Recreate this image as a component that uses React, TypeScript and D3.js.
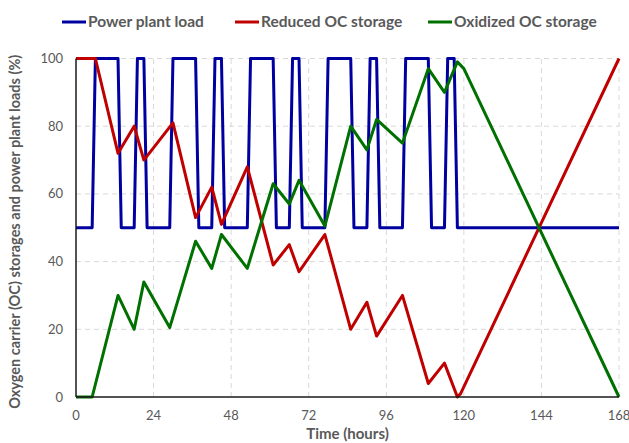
import React, { useRef, useEffect } from 'react'
import * as d3 from 'd3'

// power plant load (%), vertices in hours
const loadHours = [0, 5, 6, 13, 14, 18, 19, 21, 22, 29, 30, 37, 38, 42, 43, 45, 46, 53, 54, 61, 62, 66, 67, 69, 70, 77, 78, 85, 86, 90, 91, 93, 94, 101, 102, 109, 110, 114, 115, 117, 118, 168]
const loadValues = [50, 50, 100, 100, 50, 50, 100, 100, 50, 50, 100, 100, 50, 50, 100, 100, 50, 50, 100, 100, 50, 50, 100, 100, 50, 50, 100, 100, 50, 50, 100, 100, 50, 50, 100, 100, 50, 50, 100, 100, 50, 50]

// reduced OC storage (%)
const reducedHours = [0, 6, 13, 18, 21, 30, 37, 42, 45, 53, 61, 66, 69, 77, 85, 90, 93, 101, 109, 114, 118, 119, 168]
const reducedValues = [100, 100, 72, 80, 70, 81, 53, 62, 51, 68, 39, 45, 37, 48, 20, 28, 18, 30, 4, 10, 0, 1, 100]

// oxidized OC storage (%)
const oxidizedHours = [0, 5, 13, 18, 21, 29, 37, 42, 45, 53, 61, 66, 69, 77, 85, 90, 93, 101, 109, 114, 118, 120, 168]
const oxidizedValues = [0, 0, 30, 20, 34, 20.5, 46, 38, 48, 38, 63, 57, 64, 50.5, 80, 73, 82, 75, 97, 90, 99, 97, 0]

const xTicks = [0, 24, 48, 72, 96, 120, 144, 168]
const yTicks = [0, 20, 40, 60, 80, 100]

const seriesNames = ['Power plant load', 'Reduced OC storage', 'Oxidized OC storage']
const seriesColors = ['#0000a0', '#c00000', '#007000']

const W = 629, H = 443
const margin = { top: 58.5, right: 10, bottom: 46, left: 76 }
const FONT = 'Lato, "Open Sans", sans-serif'

const App = () => {
    const svgRef = useRef<SVGSVGElement>(null)

    useEffect(() => {
        const svg = d3.select(svgRef.current)
        svg.selectAll('*').remove()

        const x = d3.scaleLinear().domain([0, 168]).range([margin.left, W - margin.right])
        const y = d3.scaleLinear().domain([0, 100]).range([H - margin.bottom, margin.top])

        // grid
        svg.append('g')
            .selectAll('line')
            .data(yTicks.filter(d => d > 0))
            .join('line')
            .attr('x1', x(0)).attr('x2', x(168))
            .attr('y1', d => y(d)).attr('y2', d => y(d))
            .attr('stroke', '#d9d9d9').attr('stroke-dasharray', '5,4')
        svg.append('g')
            .selectAll('line')
            .data(xTicks.filter(d => d > 0))
            .join('line')
            .attr('x1', d => x(d)).attr('x2', d => x(d))
            .attr('y1', y(0)).attr('y2', y(100))
            .attr('stroke', '#d9d9d9').attr('stroke-dasharray', '5,4')

        // tick labels
        svg.append('g')
            .selectAll('text')
            .data(yTicks)
            .join('text')
            .attr('x', x(0) - 13)
            .attr('y', d => y(d))
            .attr('dy', '0.35em')
            .attr('text-anchor', 'end')
            .attr('font-family', FONT).attr('font-size', 13).attr('fill', '#595959')
            .text(d => d)
        svg.append('g')
            .selectAll('text')
            .data(xTicks)
            .join('text')
            .attr('x', d => x(d))
            .attr('y', y(0) + 18)
            .attr('dy', '0.35em')
            .attr('text-anchor', 'middle')
            .attr('font-family', FONT).attr('font-size', 13).attr('fill', '#595959')
            .text(d => d)

        // series
        const line = d3.line<[number, number]>().x(d => x(d[0])).y(d => y(d[1]))
        const series = [
            d3.zip(loadHours, loadValues),
            d3.zip(reducedHours, reducedValues),
            d3.zip(oxidizedHours, oxidizedValues),
        ] as [number, number][][]
        series.forEach((pts, i) => {
            svg.append('path')
                .datum(pts)
                .attr('d', line)
                .attr('fill', 'none')
                .attr('stroke', seriesColors[i])
                .attr('stroke-width', 3)
                .attr('stroke-linejoin', 'round')
        })

        // axes lines
        svg.append('line')
            .attr('x1', x(0)).attr('x2', x(0)).attr('y1', y(0)).attr('y2', y(100))
            .attr('stroke', '#1a1a1a').attr('stroke-width', 1.5)
        svg.append('line')
            .attr('x1', x(0)).attr('x2', x(168)).attr('y1', y(0)).attr('y2', y(0))
            .attr('stroke', '#1a1a1a').attr('stroke-width', 1.5)

        // axis titles
        svg.append('text')
            .attr('x', (x(0) + x(168)) / 2).attr('y', H - 4)
            .attr('text-anchor', 'middle')
            .attr('font-family', FONT).attr('font-size', 15).attr('font-weight', 'bold').attr('fill', '#595959')
            .text('Time (hours)')
        svg.append('text')
            .attr('transform', `translate(15, ${(y(0) + y(100)) / 2 + 4}) rotate(-90)`)
            .attr('dy', '0.35em')
            .attr('text-anchor', 'middle')
            .attr('font-family', FONT).attr('font-size', 14.5).attr('font-weight', 'bold').attr('fill', '#595959')
            .text('Oxygen carrier (OC) storages and power plant loads (%)')

        // legend
        const legendX = [62, 235, 428]
        const lg = svg.append('g')
            .selectAll('g')
            .data(seriesNames)
            .join('g')
            .attr('transform', (_, i) => `translate(${legendX[i]}, 22)`)
        lg.append('line')
            .attr('x1', 0).attr('x2', 24)
            .attr('stroke', (_, i) => seriesColors[i]).attr('stroke-width', 3)
        lg.append('text')
            .attr('x', 26).attr('dy', '0.35em')
            .attr('font-family', FONT).attr('font-size', 15.5).attr('font-weight', 'bold').attr('fill', '#595959')
            .text(d => d)
    }, [])

    return (
        <svg ref={svgRef} width={W} height={H} style={{ position: 'absolute', left: 0, top: 0, background: '#fff' }} />
    )
}

export default App
